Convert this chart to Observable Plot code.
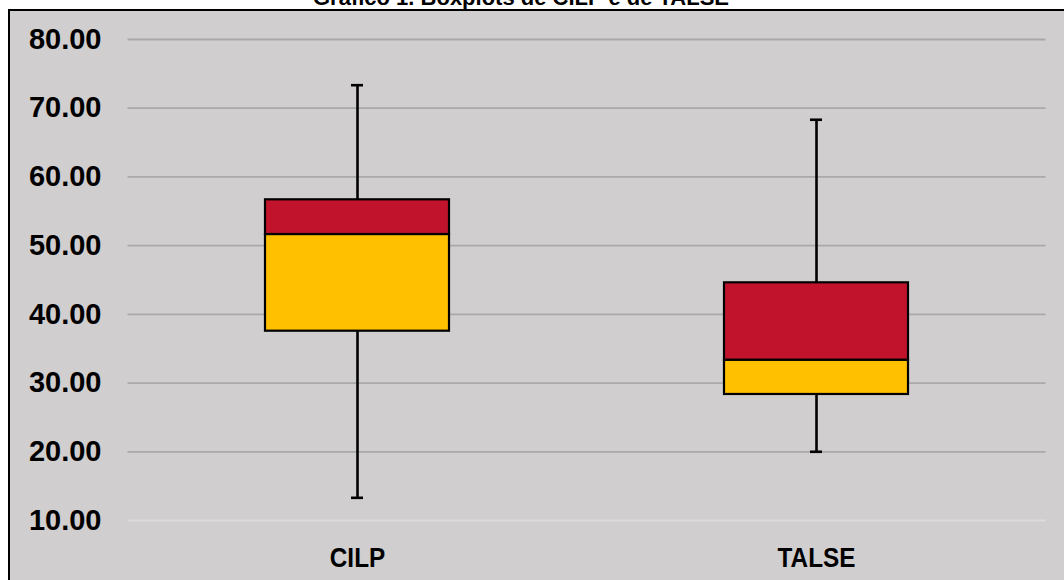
<!DOCTYPE html>
<html>
<head>
<meta charset="utf-8">
<script src="https://cdn.jsdelivr.net/npm/d3@7"></script>
<script src="https://cdn.jsdelivr.net/npm/@observablehq/plot@0.6"></script>
<style>
  html, body { margin: 0; padding: 0; background: #ffffff; overflow: hidden; }
  #page { position: relative; width: 1064px; height: 580px; overflow: hidden; }
  #panel {
    position: absolute; left: 8px; top: 9px; width: 1080px; height: 600px;
    background: #d0cecf; border-left: 2px solid #000; border-top: 2px solid #000;
  }
  #title {
    position: absolute; left: 0; top: -13.5px; width: 1042px; text-align: center;
    font: bold 22px "Liberation Sans", Arial, sans-serif; line-height: 22px; color: #000;
  }
  #chart { position: absolute; left: 0; top: 0; }
  #chart svg { background: transparent; }
</style>
</head>
<body>
<div id="page">
  <div id="panel"></div>
  <div id="title">Gráfico 1. Boxplots de CILP e de TALSE</div>
  <div id="chart"></div>
</div>
<script>
// Boxplot summaries for the two instruments
const categories = ["CILP", "TALSE"];
const minimum  = [13.30, 20.00];
const q1       = [37.55, 28.34];
const median   = [51.62, 33.33];
const q3       = [56.67, 44.59];
const maximum  = [73.35, 68.32];
const yTicks   = [10, 20, 30, 40, 50, 60, 70, 80];

const stats = categories.map((name, i) => ({
  name, min: minimum[i], q1: q1[i], median: median[i], q3: q3[i], max: maximum[i]
}));

const boldFont = `"Liberation Sans", Arial, sans-serif`;

const chart = Plot.plot({
  width: 1064,
  height: 580,
  marginLeft: 127.5,
  marginRight: 18.5,
  marginTop: 39,
  marginBottom: 60,
  style: { background: "transparent", fontFamily: boldFont, color: "#000" },
  x: { domain: categories, paddingInner: 0.6, paddingOuter: 0.3, label: null },
  y: { domain: [10, 80], label: null },
  marks: [
    // horizontal gridlines; the 10 line acts as the category axis
    Plot.ruleY(yTicks.filter(d => d > 10), { stroke: "#a9a9a9", strokeWidth: 1.8 }),
    Plot.ruleY([10], { stroke: "#dcdcdc", strokeWidth: 2 }),
    // whiskers
    Plot.ruleX(stats, { x: "name", y1: "min", y2: "q1", stroke: "#000", strokeWidth: 2.6 }),
    Plot.ruleX(stats, { x: "name", y1: "q3", y2: "max", stroke: "#000", strokeWidth: 2.6 }),
    // whisker caps
    Plot.tickY(stats, { x: "name", y: "min", stroke: "#000", strokeWidth: 2.6, insetLeft: 86, insetRight: 86 }),
    Plot.tickY(stats, { x: "name", y: "max", stroke: "#000", strokeWidth: 2.6, insetLeft: 86, insetRight: 86 }),
    // lower box (Q1 to median) and upper box (median to Q3)
    Plot.barY(stats, { x: "name", y1: "q1", y2: "median", fill: "#ffc000", stroke: "#000", strokeWidth: 2.2 }),
    Plot.barY(stats, { x: "name", y1: "median", y2: "q3", fill: "#c1142c", stroke: "#000", strokeWidth: 2.2 }),
    Plot.axisY({
      ticks: yTicks, tickFormat: d => d.toFixed(2), tickSize: 0, tickPadding: 26.5,
      fontSize: 29, fontWeight: "bold", fontFamily: boldFont, label: null
    }),
    Plot.axisX({
      tickSize: 0, tickPadding: 27, fontSize: 27, fontWeight: "bold",
      fontFamily: boldFont, label: null, className: "xlab"
    })
  ]
});

document.getElementById("chart").appendChild(chart);

// Condense the category labels horizontally, as in a narrow bold face
chart.querySelectorAll("g[aria-label='x-axis tick label'] text").forEach(t => {
  const w = t.getComputedTextLength();
  t.setAttribute("textLength", (w * 0.9).toFixed(1));
  t.setAttribute("lengthAdjust", "spacingAndGlyphs");
});
</script>
</body>
</html>
